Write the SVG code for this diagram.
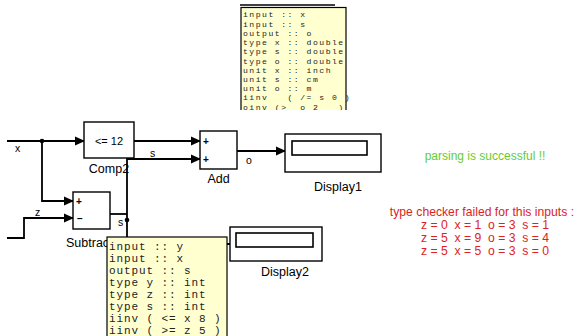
<svg xmlns="http://www.w3.org/2000/svg" width="580" height="336" viewBox="0 0 580 336">
<defs>
<marker id="arr" markerWidth="10" markerHeight="10" refX="9" refY="5" orient="auto" markerUnits="userSpaceOnUse">
<path d="M0,0.5 L10,5 L0,9.5 Z" fill="#000"/>
</marker>
<clipPath id="topclip"><rect x="230" y="0" width="130" height="110"/></clipPath>
</defs>
<style>
.blk{fill:#fff;stroke:#000;stroke-width:1.4}
.inner{fill:#fff;stroke:#000;stroke-width:1.6}
.wire{fill:none;stroke:#000;stroke-width:1.8}
.lbl{font-family:"Liberation Sans",Arial,sans-serif;font-size:12.5px;fill:#000}
.sig{font-family:"Liberation Sans",Arial,sans-serif;font-size:10.5px;fill:#000}
.sign{font-family:"Liberation Sans",Arial,sans-serif;font-size:10px;font-weight:bold;fill:#000}
.note{fill:#ffffd0;stroke:#000;stroke-width:1.2}
.mono1{font-family:"Liberation Mono","Courier New",monospace;font-size:8.1px;letter-spacing:1.5px;fill:#222;white-space:pre}
.mono2{font-family:"Liberation Mono","Courier New",monospace;font-size:11px;letter-spacing:0.9px;fill:#222;white-space:pre}
.ok{font-family:"Liberation Sans",Arial,sans-serif;font-size:12px;fill:#66cc33}
.bad{font-family:"Liberation Sans",Arial,sans-serif;font-size:12.2px;fill:#dd2222;white-space:pre}
</style>
<rect width="580" height="336" fill="#fff"/>

<g id="connectors">
<path class="wire" d="M7,141 H84" marker-end="url(#arr)"/>
<path class="wire" d="M42,141 V201 H73" marker-end="url(#arr)"/>
<path class="wire" d="M7,238 H24 V218 H73" marker-end="url(#arr)"/>
<path class="wire" d="M134,141 H200" marker-end="url(#arr)"/>
<path class="wire" d="M110,214 H127"/>
<path class="wire" d="M127,300 V159 H200" marker-end="url(#arr)"/>
<path class="wire" d="M237,151 H285" marker-end="url(#arr)"/>
<path class="wire" d="M127,244 H230" stroke-width="1"/>
<circle cx="42" cy="141" r="2.3" fill="#000"/>
<circle cx="127" cy="220" r="2.3" fill="#000"/>
<text class="sig" x="15" y="152">x</text>
<text class="sig" x="35" y="216">z</text>
<text class="sig" x="150" y="157">s</text>
<text class="sig" x="246" y="164">o</text>
<text class="sig" x="118" y="226">s</text>
</g>

<g id="comp2">
<rect class="blk" x="84" y="122" width="50" height="36"/>
<text class="lbl" x="109" y="145" text-anchor="middle" style="font-size:11px">&lt;= 12</text>
<text class="lbl" x="109" y="173" text-anchor="middle">Comp2</text>
</g>

<g id="add">
<rect class="blk" x="200" y="131" width="37" height="38"/>
<text class="sign" x="203" y="145">+</text>
<text class="sign" x="203" y="163">+</text>
<text class="lbl" x="218.5" y="183" text-anchor="middle">Add</text>
</g>

<g id="display1">
<rect class="blk" x="285" y="134" width="96" height="38"/>
<rect class="inner" x="292" y="141" width="75" height="14"/>
<text class="lbl" x="338" y="191" text-anchor="middle">Display1</text>
</g>

<g id="subtract">
<rect class="blk" x="73" y="192" width="37" height="37"/>
<text class="sign" x="76" y="205">+</text>
<text class="sign" x="77" y="222">–</text>
<text class="lbl" x="66" y="247">Subtract</text>
</g>

<g id="display2">
<rect class="blk" x="230" y="227" width="92" height="34"/>
<rect class="inner" x="236" y="233" width="77" height="14"/>
<text class="lbl" x="285" y="276" text-anchor="middle">Display2</text>
</g>

<g id="note-top">
<line x1="240" y1="5" x2="335" y2="5" stroke="#000" stroke-width="1.5"/>
<g clip-path="url(#topclip)">
<rect class="note" x="241" y="7.5" width="105" height="120"/>
<text class="mono1" x="243" y="17.3">input :: x</text>
<text class="mono1" x="243" y="26.5">input :: s</text>
<text class="mono1" x="243" y="35.8">output :: o</text>
<text class="mono1" x="243" y="45">type x :: double</text>
<text class="mono1" x="243" y="54.2">type s :: double</text>
<text class="mono1" x="243" y="63.5">type o :: double</text>
<text class="mono1" x="243" y="72.7">unit x :: inch</text>
<text class="mono1" x="243" y="81.9">unit s :: cm</text>
<text class="mono1" x="243" y="91.1">unit o :: m</text>
<text class="mono1" x="243" y="100.4">iinv   ( /= s 0 )</text>
<text class="mono1" x="243" y="109.6">oinv (&gt;  o 2   )</text>
</g>
</g>

<g id="note-bottom">
<rect class="note" x="107" y="237" width="120" height="110"/>
<text class="mono2" x="109" y="249.5">input :: y</text>
<text class="mono2" x="109" y="261.5">input :: x</text>
<text class="mono2" x="109" y="273.5">output :: s</text>
<text class="mono2" x="109" y="285.6">type y :: int</text>
<text class="mono2" x="109" y="297.7">type z :: int</text>
<text class="mono2" x="109" y="309.8">type s :: int</text>
<text class="mono2" x="109" y="321.9">iinv ( &lt;= x 8 )</text>
<text class="mono2" x="109" y="333.5">iinv ( &gt;= z 5 )</text>
</g>

<g id="messages">
<text class="ok" x="485" y="160" text-anchor="middle">parsing is successful !!</text>
<text class="bad" x="482" y="216" text-anchor="middle">type checker failed for this inputs :</text>
<text class="bad" x="485" y="229" text-anchor="middle">z = 0  x = 1  o = 3  s = 1</text>
<text class="bad" x="485" y="242" text-anchor="middle">z = 5  x = 9  o = 3  s = 4</text>
<text class="bad" x="485" y="255" text-anchor="middle">z = 5  x = 5  o = 3  s = 0</text>
</g>
</svg>
